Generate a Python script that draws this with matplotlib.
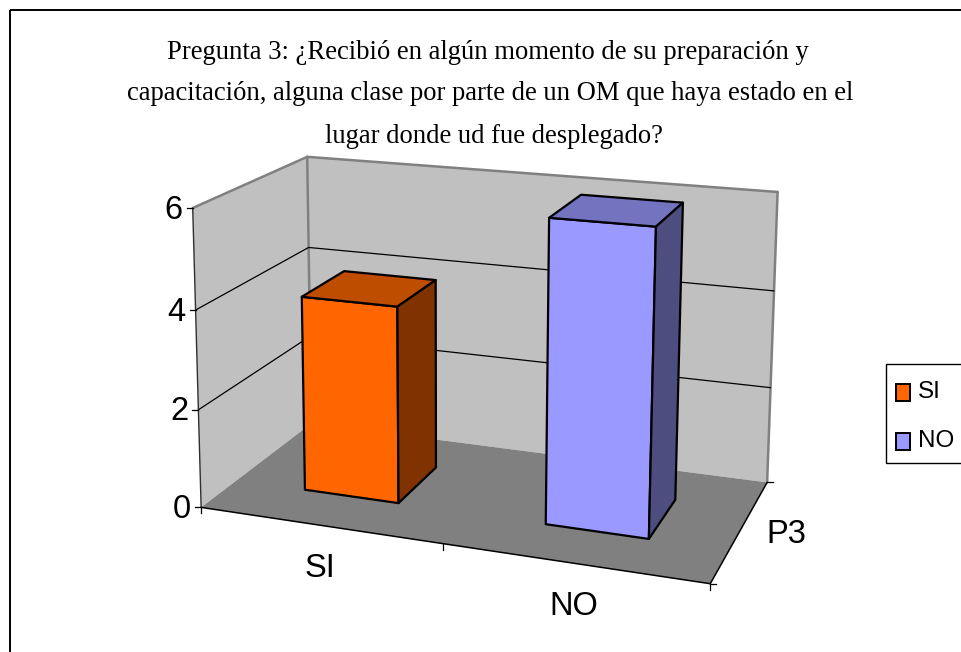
import numpy as np
import matplotlib
matplotlib.use("Agg")
import matplotlib.pyplot as plt
from matplotlib.patches import Rectangle

title_lines = ["Pregunta 3: ¿Recibió en algún momento de su preparación y",
               "capacitación, alguna clase por parte de un OM que haya estado en el",
               "lugar donde ud fue desplegado?"]
categories = ["SI", "NO"]
values = [4, 6]
front_colors = ["#FF6600", "#9999FF"]
top_colors = ["#BF4D00", "#7373BF"]
side_colors = ["#803300", "#4D4D80"]
value_ticks = [0, 2, 4, 6]
depth_label = "P3"

W, H = 961, 652
Y_MAX = 6
LABEL_FONT = "Liberation Sans"

# calibration of the fake 3d box: (x, depth, value) -> pixel, x and depth in 0..1
box_pts = [(0, 0, 6), (0, 0, 4), (0, 0, 2), (0, 0, 0),
           (0, 1, 6), (0, 1, 4), (0, 1, 0),
           (1, 1, 6), (1, 1, 4), (1, 1, 0), (1, 0, 0)]
box_px = [(192, 208), (195, 310), (199, 409), (202, 508),
          (308, 156), (309, 249), (310, 423),
          (778, 192), (773, 291), (768, 482), (710, 584)]


def fit_projection(pts, px):
    # plain DLT, solves the 3x4 camera matrix
    rows = []
    for (x, z, y), (u, v) in zip(pts, px):
        p = [x, z, y, 1]
        rows.append(p + [0, 0, 0, 0] + [-u * c for c in p])
        rows.append([0, 0, 0, 0] + p + [-v * c for c in p])
    return np.linalg.svd(np.array(rows, float))[2][-1].reshape(3, 4)


P = fit_projection(box_pts, box_px)


def project(x, z, y):
    u, v, w = P @ np.array([x, z, y, 1.0])
    return u / w, v / w


def face(ax, corners, color, edge="none", lw=0, zorder=2):
    ax.fill(*zip(*[project(*c) for c in corners]), facecolor=color,
            edgecolor=edge, linewidth=lw, joinstyle="round", zorder=zorder)


def seg(ax, a, b, color="black", lw=1.0, zorder=3):
    pa, pb = project(*a), project(*b)
    ax.plot([pa[0], pb[0]], [pa[1], pb[1]], color=color, lw=lw, zorder=zorder,
            solid_capstyle="round")


fig = plt.figure(figsize=(W / 100, H / 100), dpi=100)
ax = fig.add_axes([0, 0, 1, 1])
ax.set_xlim(0, W)
ax.set_ylim(H, 0)
ax.axis("off")

# chart border
ax.add_patch(Rectangle((9.5, 10), W, H, fill=False, edgecolor="black", lw=1.4, zorder=1))

for line, xpos, ypos in zip(title_lines, [488, 490, 494], [59, 100, 143]):
    ax.text(xpos, ypos, line, family="Liberation Serif", fontsize=19.2, ha="center", va="baseline")

# walls and floor
face(ax, [(0, 0, 0), (0, 1, 0), (0, 1, Y_MAX), (0, 0, Y_MAX)], "#C0C0C0")
face(ax, [(0, 1, 0), (1, 1, 0), (1, 1, Y_MAX), (0, 1, Y_MAX)], "#C0C0C0")
face(ax, [(0, 0, 0), (1, 0, 0), (1, 1, 0), (0, 1, 0)], "#808080")
for a, b in [((0, 0, Y_MAX), (0, 1, Y_MAX)), ((0, 1, Y_MAX), (1, 1, Y_MAX)),
             ((1, 1, Y_MAX), (1, 1, 0)), ((0, 1, Y_MAX), (0, 1, 0))]:
    seg(ax, a, b, color="#808080", lw=1.8)

# gridlines
for v in value_ticks[1:-1]:
    seg(ax, (0, 0, v), (0, 1, v), lw=0.9)
    seg(ax, (0, 1, v), (1, 1, v), lw=0.9)

# axes lines
seg(ax, (0, 0, 0), (0, 0, Y_MAX), color="#303030", lw=1.0)
seg(ax, (0, 0, 0), (1, 0, 0), lw=1.1)
seg(ax, (1, 0, 0), (1, 1, 0), lw=1.1)

# bars, 150% gap both ways
n = len(categories)
for i, val in enumerate(values):
    x0 = (i + 0.3) / n
    x1 = (i + 0.7) / n
    z0, z1 = 0.3, 0.7
    face(ax, [(x0, z0, 0), (x1, z0, 0), (x1, z0, val), (x0, z0, val)], front_colors[i],
         "black", 1.6, zorder=5)
    face(ax, [(x0, z0, val), (x1, z0, val), (x1, z1, val), (x0, z1, val)], top_colors[i],
         "black", 1.6, zorder=5)
    face(ax, [(x1, z0, 0), (x1, z1, 0), (x1, z1, val), (x1, z0, val)], side_colors[i],
         "black", 1.6, zorder=5)

# ticks and tick labels
for v in value_ticks:
    u, w = project(0, 0, v)
    ax.plot([u - 6, u], [w, w], color="black", lw=0.9, zorder=3)
    ax.text(u - 10, w + 2, str(v), family=LABEL_FONT, fontsize=23.5,
            ha="right", va="center")
for k in range(n + 1):
    u, w = project(k / n, 0, 0)
    ax.plot([u, u], [w, w + 6], color="black", lw=0.9, zorder=3)
for k in range(2):
    u, w = project(1, k, 0)
    ax.plot([u, u + 6], [w, w], color="black", lw=0.9, zorder=3)

for i, cat in enumerate(categories):
    u, w = project((i + 0.5) / n, 0, 0)
    ax.text(u + 1, w + 43, cat, family=LABEL_FONT, fontsize=23.5, ha="center", va="center")
u, w = project(1, 0.5, 0)
ax.text(u + 46, w + 5, depth_label, family=LABEL_FONT, fontsize=23.5, ha="center", va="center")

# legend, box runs off the right edge like the original
ax.add_patch(Rectangle((885.5, 364), 90, 99, facecolor="white", edgecolor="black", lw=1.0, zorder=6))
for i, cat in enumerate(categories):
    row = 392 + 49 * i
    ax.add_patch(Rectangle((896, row - 8.5), 14, 17, facecolor=front_colors[i],
                           edgecolor="black", lw=1.4, zorder=7))
    ax.text(918, row, cat, family=LABEL_FONT, fontsize=17.5, ha="left", va="center", zorder=7)

fig.savefig("out.png", dpi=100)
